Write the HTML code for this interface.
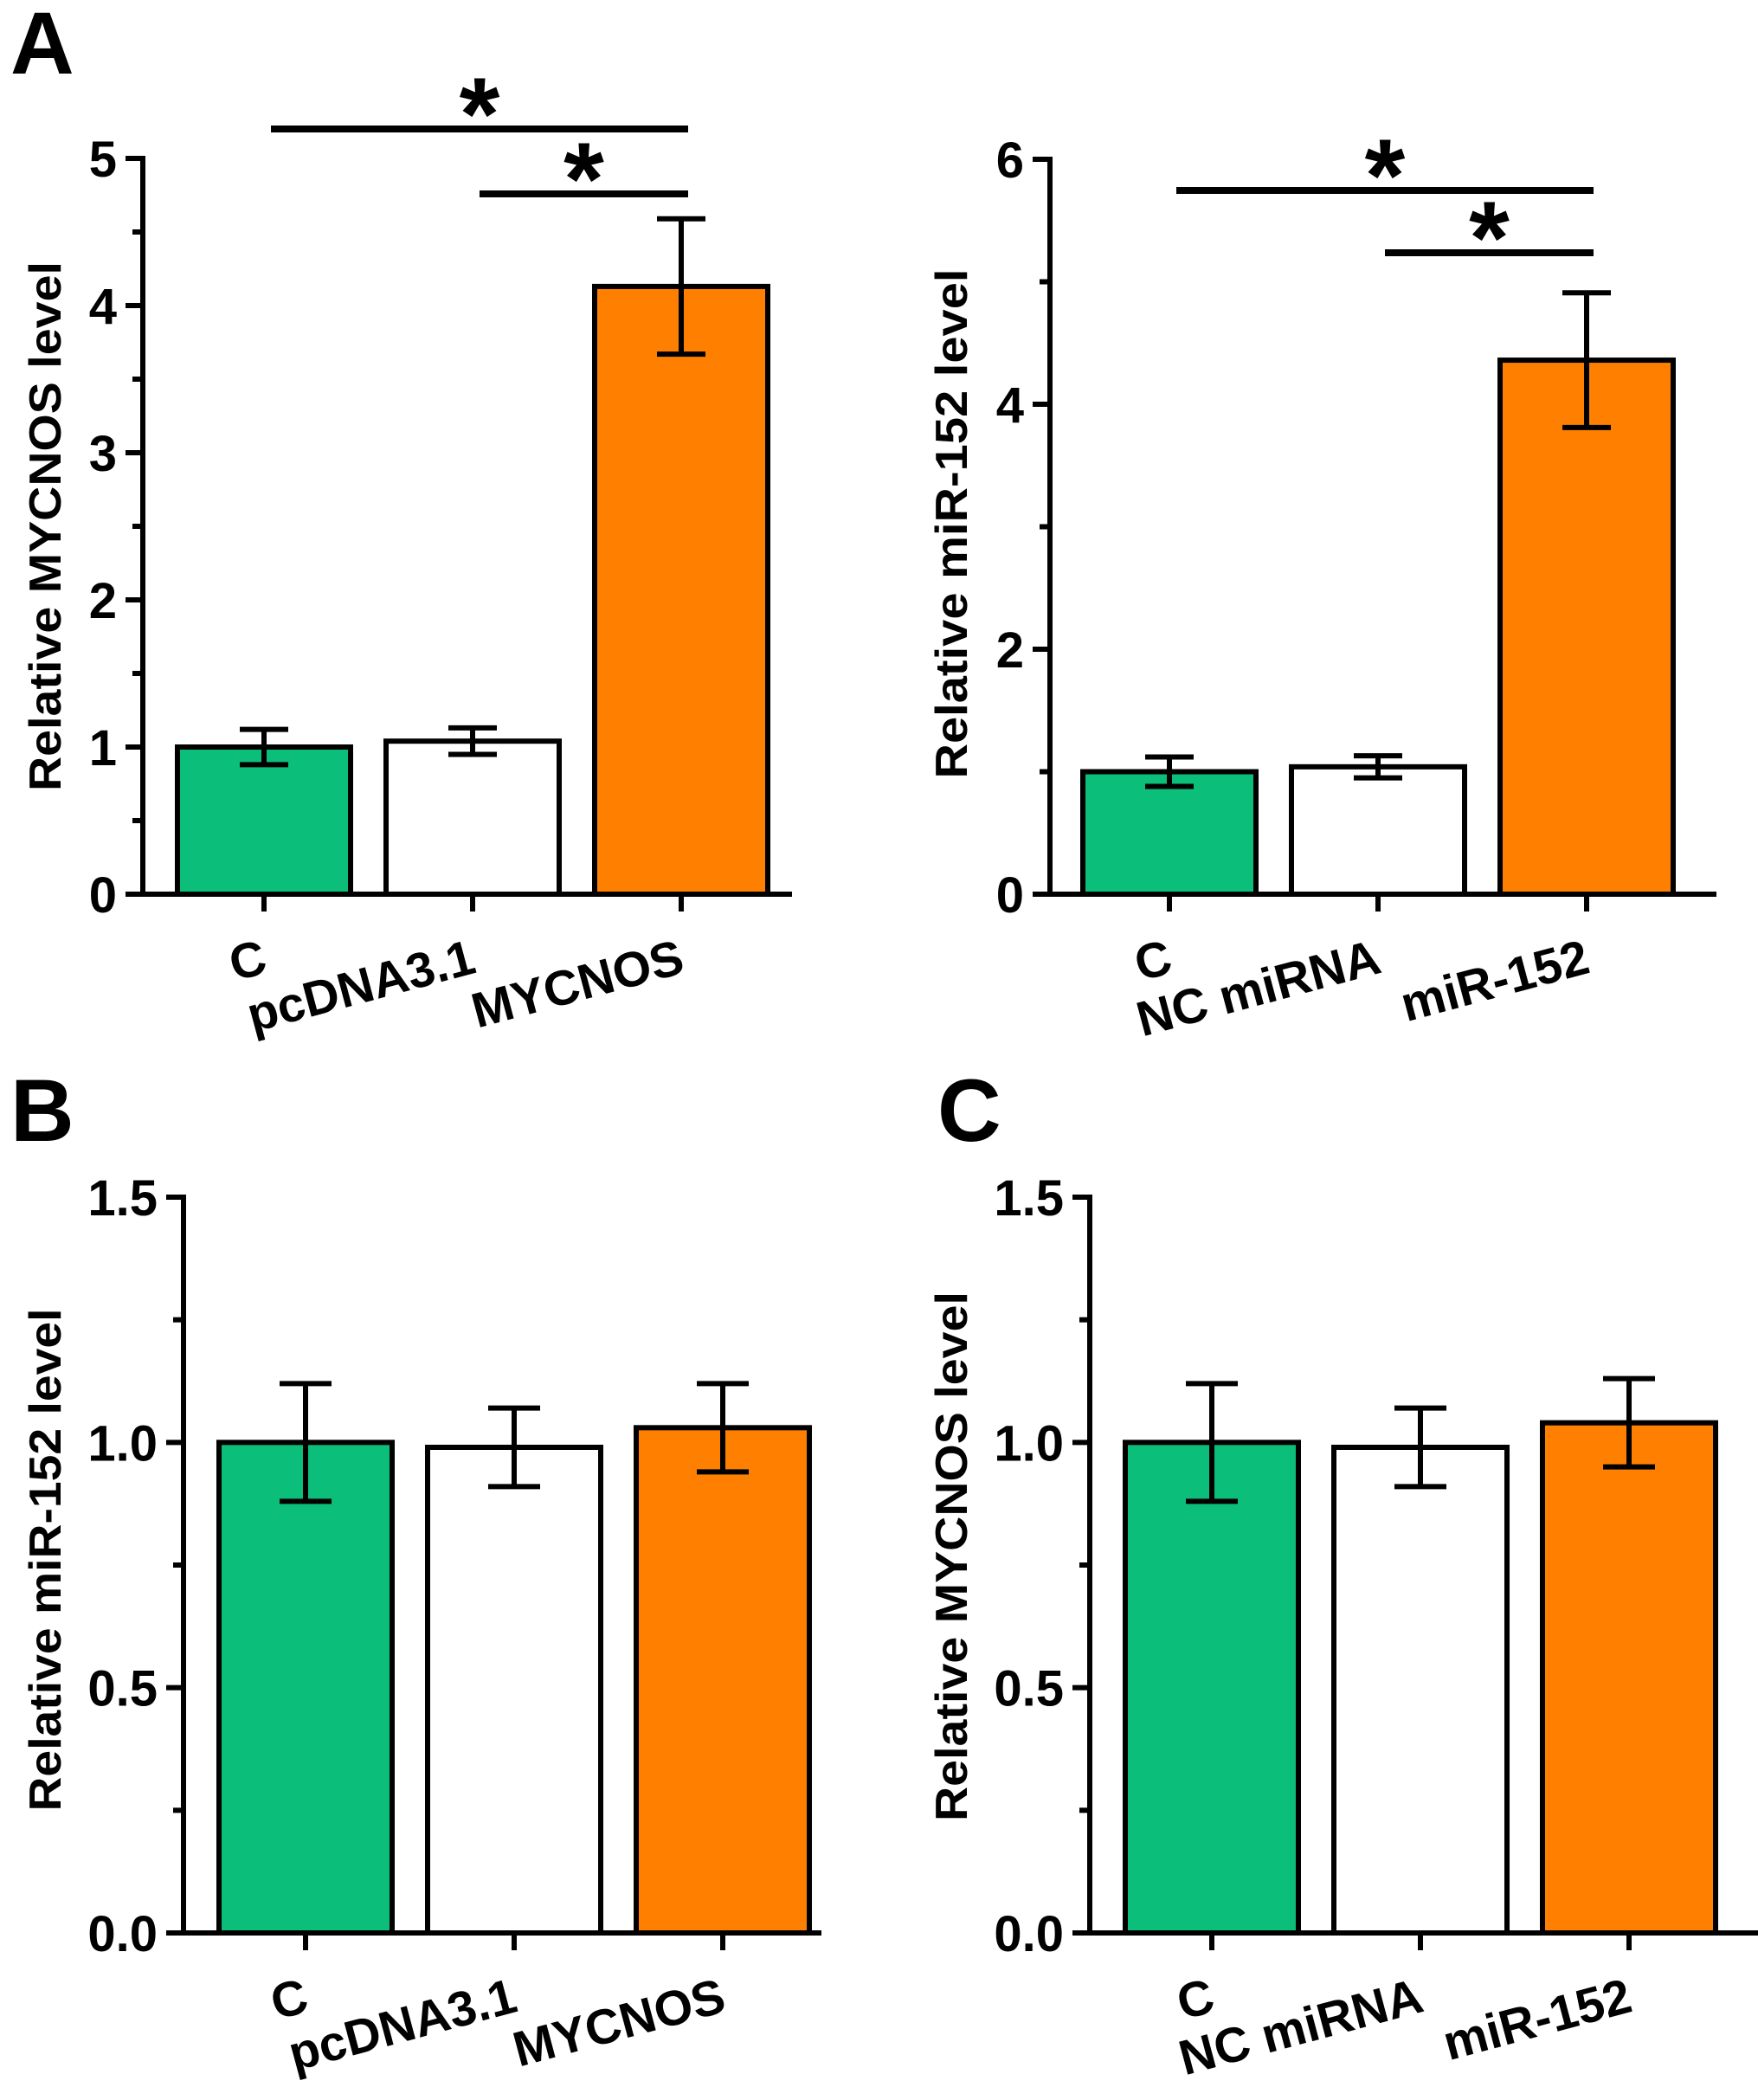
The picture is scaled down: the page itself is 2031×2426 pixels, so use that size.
<!DOCTYPE html>
<html><head><meta charset="utf-8"><style>
html,body{margin:0;padding:0;background:#fff}
svg{display:block}
text{font-family:"Liberation Sans",Arial,sans-serif;font-weight:bold;fill:#000}
</style></head><body>
<svg id="fig" width="2031" height="2426" viewBox="0 0 2031 2426" xmlns="http://www.w3.org/2000/svg">
<text x="12" y="85" font-size="102">A</text>
<text x="12" y="1318" font-size="102">B</text>
<text x="1083" y="1318" font-size="102">C</text>
</svg>
<script>
// Panel A left
const aLCats=["C","pcDNA3.1","MYCNOS"];
const aLVals=[1.0,1.04,4.13];
const aLErr=[0.12,0.09,0.46];
const aLTicks=[0,1,2,3,4,5];
// Panel A right
const aRCats=["C","NC miRNA","miR-152"];
const aRVals=[1.0,1.04,4.36];
const aRErr=[0.12,0.09,0.55];
const aRTicks=[0,2,4,6];
// Panel B
const bCats=["C","pcDNA3.1","MYCNOS"];
const bVals=[1.0,0.99,1.03];
const bErr=[0.12,0.08,0.09];
const bTicks=["0.0","0.5","1.0","1.5"];
// Panel C
const cCats=["C","NC miRNA","miR-152"];
const cVals=[1.0,0.99,1.04];
const cErr=[0.12,0.08,0.09];
const cTicks=["0.0","0.5","1.0","1.5"];
const colors=["#0bbf7a","#ffffff","#ff8000"];

const svg=document.getElementById('fig');
const NS="http://www.w3.org/2000/svg";
function mk(tag,attrs,parent){const e=document.createElementNS(NS,tag);for(const k in attrs)e.setAttribute(k,attrs[k]);(parent||svg).appendChild(e);return e;}

function panel(o){
  const g=mk('g',{});
  
  
  const ticksNum=o.ticks.map(Number);
  const ymax=ticksNum[ticksNum.length-1];
  const y=v=>o.y0-(v/ymax)*(o.y0-o.yTop);
  const x=i=>o.x0+i*o.step;
  for(let k=0;k<o.ticks.length-1;k++){
    const mv=(ticksNum[k]+ticksNum[k+1])/2;
    const t=mk('line',{x1:o.ax-12,x2:o.ax,y1:y(mv),y2:y(mv),stroke:'#000','stroke-width':6},g);
    
    
  }
  o.ticks.forEach((lab,k)=>{
    const v=ticksNum[k];
    const t=mk('line',{x1:o.ax-20,x2:o.ax,y1:y(v),y2:y(v),stroke:'#000','stroke-width':6},g);
    
    
    const tx=mk('text',{x:o.ax-30,y:y(v)+21,'font-size':58,'text-anchor':'end'},g);
    tx.textContent=lab;
    
    
  });
  o.vals.forEach((v,i)=>{
    const cx=x(i);
    const r=mk('rect',{x:cx-o.bw/2,y:y(v),width:o.bw,height:o.y0-y(v),fill:colors[i],stroke:'#000','stroke-width':6},g);
    
    
    const e=o.err[i];
    const eg=mk('g',{stroke:'#000','stroke-width':6,fill:'none'},g);
    
    
    mk('line',{x1:cx,x2:cx,y1:y(v+e),y2:y(v-e)},eg);
    mk('line',{x1:cx-o.cap/2,x2:cx+o.cap/2,y1:y(v+e),y2:y(v+e)},eg);
    mk('line',{x1:cx-o.cap/2,x2:cx+o.cap/2,y1:y(v-e),y2:y(v-e)},eg);
    const t=mk('line',{x1:cx,x2:cx,y1:o.y0,y2:o.y0+20,stroke:'#000','stroke-width':6},g);
    
    
    const tx=mk('text',{x:0,y:0,'font-size':57,'text-anchor':'end',transform:`translate(${cx+6},${o.y0+90}) rotate(-15)`},g);
    tx.textContent=o.cats[i];
    
    
  });
  const ya=mk('line',{x1:o.ax,x2:o.ax,y1:o.yTop-3,y2:o.y0+3,stroke:'#000','stroke-width':6},g);
  
  
  const xa=mk('line',{x1:o.ax-3,x2:o.xEnd,y1:o.y0,y2:o.y0,stroke:'#000','stroke-width':6},g);
  
  
  const yt=mk('text',{x:0,y:0,'font-size':52,'text-anchor':'middle',transform:`translate(${o.ylx},${o.yly}) rotate(-90)`,textLength:o.ylLen,lengthAdjust:'spacingAndGlyphs'},g);
  yt.textContent=o.ylabel;
  
  
  (o.sig||[]).forEach(s=>{
    const l=mk('line',{x1:x(s[0])+8,x2:x(s[1])+8,y1:s[2],y2:s[2],stroke:'#000','stroke-width':8},g);
    
    
    const a=mk('text',{x:(x(s[0])+x(s[1]))/2+8,y:s[2]+24,'font-size':120,'text-anchor':'middle'},g);
    a.textContent='*';
    
    
  });
}
panel({name:'chart-a-mycnos',cats:aLCats,vals:aLVals,err:aLErr,ticks:aLTicks,ax:165,y0:1033,yTop:183,x0:305,step:241,bw:200,cap:56,xEnd:915,ylx:70,yly:608,ylLen:612,ylabel:'Relative MYCNOS level',sig:[[0,2,149],[1,2,224]]});
panel({name:'chart-a-mir152',cats:aRCats,vals:aRVals,err:aRErr,ticks:aRTicks,ax:1213,y0:1033,yTop:184,x0:1351,step:241,bw:200,cap:56,xEnd:1983,ylx:1117,yly:605,ylLen:589,ylabel:'Relative miR-152 level',sig:[[0,2,220],[1,2,292]]});
panel({name:'chart-b',cats:bCats,vals:bVals,err:bErr,ticks:bTicks,ax:212,y0:2233,yTop:1383,x0:353,step:241,bw:200,cap:60,xEnd:949,ylx:70,yly:1802,ylLen:581,ylabel:'Relative miR-152 level'});
panel({name:'chart-c',cats:cCats,vals:cVals,err:cErr,ticks:cTicks,ax:1259,y0:2233,yTop:1383,x0:1400,step:241,bw:200,cap:60,xEnd:2031,ylx:1117,yly:1798,ylLen:612,ylabel:'Relative MYCNOS level'});
</script>
</body></html>
